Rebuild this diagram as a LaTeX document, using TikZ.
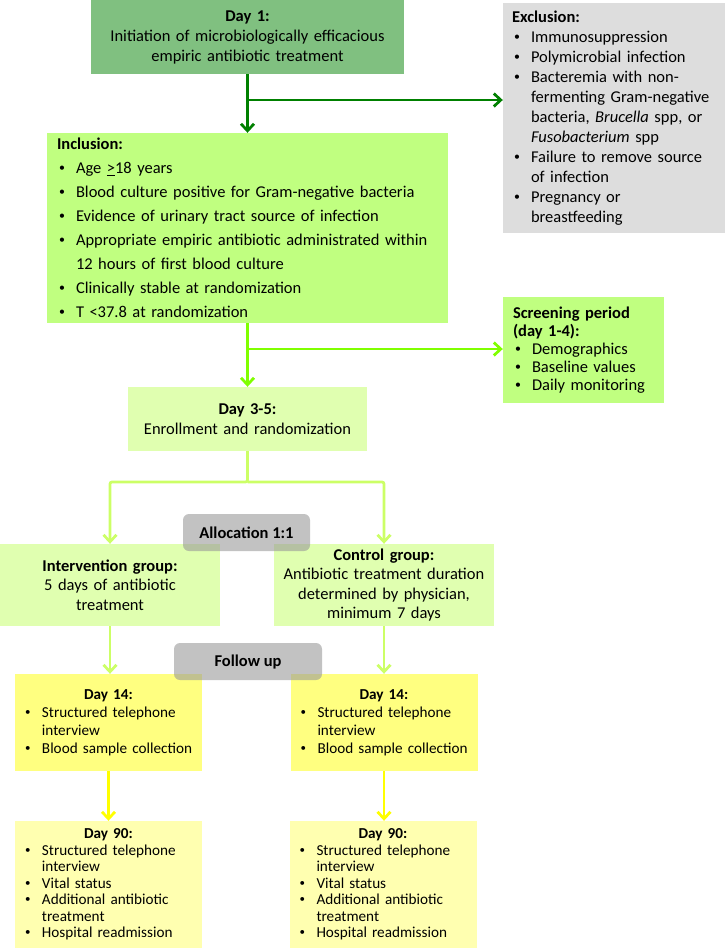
\documentclass[tikz,border=0pt]{standalone}
\usepackage{fontspec}
\setmainfont{Carlito}
\usepackage{xcolor}
\usetikzlibrary{arrows.meta}

\definecolor{dayone}{RGB}{128,192,128}
\definecolor{exgray}{RGB}{221,221,221}
\definecolor{incgreen}{RGB}{192,255,128}
\definecolor{palegreen}{RGB}{224,255,176}
\definecolor{dayyellow}{RGB}{255,255,128}
\definecolor{paleyellow}{RGB}{255,255,176}
\definecolor{darkarrow}{RGB}{0,128,0}
\definecolor{limearrow}{RGB}{128,255,0}
\definecolor{palearrow}{RGB}{204,255,102}
\definecolor{yellowarrow}{RGB}{255,255,0}

% bullet line and continued line
\newcommand{\smbul}{\raisebox{0.12em}{\scalebox{0.72}{\textbullet}}}
\newcommand{\bul}[1]{\par\noindent\makebox[19pt][l]{\hspace{2pt}\smbul}\mbox{#1}}
\newcommand{\cont}[1]{\par\noindent\hspace*{19pt}\mbox{#1}}

\begin{document}
\begin{tikzpicture}[
    x=1pt, y=-1pt,
    >={Straight Barb[length=7pt,width=13pt]},
    flow/.style={inner xsep=9pt, inner ysep=0pt, align=left,
                 font=\fontsize{16.5}{20}\selectfont},
    midbox/.style={flow, align=center},
    listbox/.style={flow, inner xsep=10pt},
    fubox/.style={flow, inner xsep=8pt, text width=171pt},
    tagbox/.style={midbox, rounded corners=6pt, fill=black!40, fill opacity=0.6,
                   text opacity=1, font=\fontsize{16.5}{20}\selectfont\bfseries},
    dkline/.style={->, draw=darkarrow, line width=2.75pt},
    limeline/.style={->, draw=limearrow, line width=2.75pt},
    paleline/.style={->, draw=palearrow, line width=2.75pt, rounded corners=2pt},
    yline/.style={->, draw=yellowarrow, line width=2.75pt}
    ]
\useasboundingbox (0,0) rectangle (725,948);

\node[midbox, fill=dayone, minimum width=313pt, minimum height=74pt, text width=295pt] (day1) at (247.5,37)
    {\textbf{Day 1:}\\Initiation of microbiologically efficacious\\empiric antibiotic treatment};

\node[flow, fill=exgray, minimum width=222pt, minimum height=230pt, text width=204pt] (excl) at (614,118)
    {\textbf{Exclusion:}
     \bul{Immunosuppression}
     \bul{Polymicrobial infection}
     \bul{Bacteremia with non-}
     \cont{fermenting Gram-negative}
     \cont{bacteria, \textit{Brucella} spp, or}
     \cont{\textit{Fusobacterium} spp}
     \bul{Failure to remove source}
     \cont{of infection}
     \bul{Pregnancy or}
     \cont{breastfeeding}};

\node[listbox, fill=incgreen, minimum width=401pt, minimum height=190pt, text width=381pt,
      font=\fontsize{16.5}{24}\selectfont] (incl) at (247.5,228)
    {\textbf{Inclusion:}
     \bul{Age \underline{>}18 years}
     \bul{Blood culture positive for Gram-negative bacteria}
     \bul{Evidence of urinary tract source of infection}
     \bul{Appropriate empiric antibiotic administrated within}
     \cont{12 hours of first blood culture}
     \bul{Clinically stable at randomization}
     \bul{T <37.8 at randomization}};

\node[listbox, fill=incgreen, minimum width=161pt, minimum height=106pt, text width=141pt,
      font=\fontsize{16.5}{18}\selectfont] (screen) at (583.5,350)
    {\textbf{Screening period}
     \par\noindent\textbf{(day 1-4):}
     \bul{Demographics}
     \bul{Baseline values}
     \bul{Daily monitoring}};

\node[midbox, fill=palegreen, minimum width=239pt, minimum height=64pt, text width=221pt] (enroll) at (247.5,419)
    {\textbf{Day 3-5:}\\Enrollment and randomization};

\node[midbox, fill=palegreen, minimum width=220pt, minimum height=82pt, text width=202pt,
      font=\fontsize{16.5}{19.5}\selectfont] (interv) at (110,585)
    {\textbf{Intervention group:}\\5 days of antibiotic\\treatment};
\node[midbox, fill=palegreen, minimum width=220pt, minimum height=82pt, text width=202pt,
      font=\fontsize{16.5}{19.5}\selectfont] (ctrl) at (384,585)
    {\textbf{Control group:}\\Antibiotic treatment duration\\determined by physician,\\minimum 7 days};

\node[tagbox, minimum width=127pt, minimum height=37pt] (alloc) at (246.5,532.5) {Allocation 1:1};

\node[fubox, fill=dayyellow, minimum width=187pt, minimum height=97pt,
      font=\fontsize{15.2}{18}\selectfont] (d14a) at (108.5,722.5)
    {\centerline{\textbf{Day 14:}}
     \bul{Structured telephone}
     \cont{interview}
     \bul{Blood sample collection}};
\node[fubox, fill=dayyellow, minimum width=187pt, minimum height=97pt,
      font=\fontsize{15.2}{18}\selectfont] (d14b) at (384,722.5)
    {\centerline{\textbf{Day 14:}}
     \bul{Structured telephone}
     \cont{interview}
     \bul{Blood sample collection}};

\node[tagbox, minimum width=148pt, minimum height=37pt] (follow) at (248,661.5) {Follow up};

\node[fubox, fill=paleyellow, minimum width=187pt, minimum height=127pt,
      font=\fontsize{15.2}{16.5}\selectfont] (d90a) at (108.5,884.5)
    {\centerline{\textbf{Day 90:}}
     \bul{Structured telephone}
     \cont{interview}
     \bul{Vital status}
     \bul{Additional antibiotic}
     \cont{treatment}
     \bul{Hospital readmission}};
\node[fubox, fill=paleyellow, minimum width=187pt, minimum height=127pt,
      font=\fontsize{15.2}{16.5}\selectfont] (d90b) at (383,884.5)
    {\centerline{\textbf{Day 90:}}
     \bul{Structured telephone}
     \cont{interview}
     \bul{Vital status}
     \bul{Additional antibiotic}
     \cont{treatment}
     \bul{Hospital readmission}};

\coordinate (exsplit) at (247.5,100);
\coordinate (scsplit) at (247.5,349);
\coordinate (grsplit) at (247.5,482);

\draw[dkline] (day1.south) -- (incl.north);
\draw[dkline] (exsplit) -- (exsplit -| excl.west);
\draw[limeline] (incl.south) -- (enroll.north);
\draw[limeline] (scsplit) -- (scsplit -| screen.west);
\draw[paleline] (enroll.south) -- (grsplit) -| (interv.north);
\draw[paleline] (grsplit) -| (ctrl.north);
\draw[paleline] (interv.south) -- (interv.south |- d14a.north);
\draw[paleline] (ctrl.south) -- (d14b.north);
\draw[yline] (d14a.south) -- (d90a.north);
\draw[yline] (d14b.south) -- (d14b.south |- d90b.north);
\end{tikzpicture}
\end{document}
